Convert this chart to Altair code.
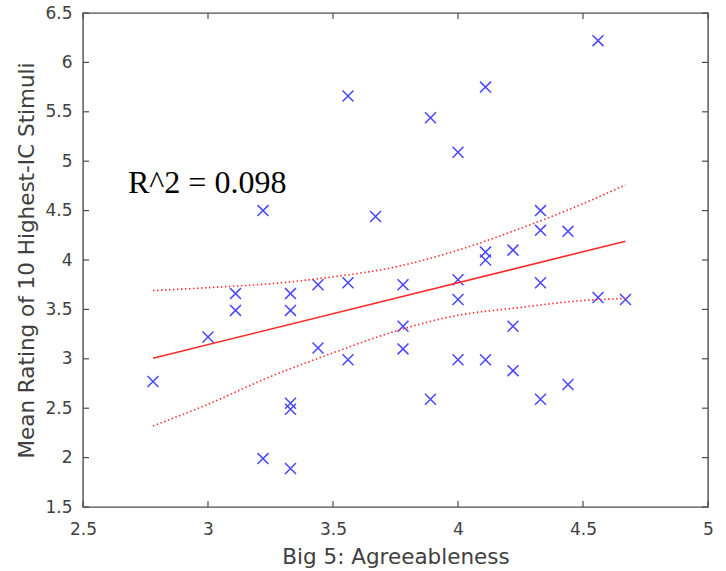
import altair as alt
import pandas as pd

# Big Five agreeableness score and mean rating for each participant
agree = [2.78, 3.00, 3.11, 3.11, 3.22, 3.22, 3.33, 3.33, 3.33, 3.33, 3.33,
         3.44, 3.44, 3.56, 3.56, 3.56, 3.67, 3.78, 3.78, 3.78, 3.89, 3.89,
         4.00, 4.00, 4.00, 4.00, 4.11, 4.11, 4.11, 4.11, 4.22, 4.22, 4.22,
         4.33, 4.33, 4.33, 4.33, 4.44, 4.44, 4.56, 4.56, 4.67]
rating = [2.77, 3.22, 3.66, 3.49, 4.50, 1.99, 3.66, 3.49, 2.55, 2.49, 1.89,
          3.75, 3.11, 5.66, 3.77, 2.99, 4.44, 3.75, 3.33, 3.10, 5.44, 2.59,
          5.09, 3.80, 3.60, 2.99, 5.75, 4.08, 4.00, 2.99, 4.10, 3.33, 2.88,
          4.50, 4.30, 3.77, 2.59, 4.29, 2.74, 6.22, 3.62, 3.60]

# least-squares fit and its confidence bounds
fit_x = [2.78, 4.67]
fit_y = [3.005, 4.19]
band_x = [2.78, 3.00, 3.25, 3.50, 3.75, 4.00, 4.25, 4.50, 4.67]
band_hi = [3.69, 3.72, 3.76, 3.83, 3.93, 4.10, 4.32, 4.57, 4.76]
band_lo = [2.32, 2.54, 2.82, 3.06, 3.28, 3.44, 3.52, 3.59, 3.61]

x_ticks = [2.5, 3, 3.5, 4, 4.5, 5]
y_ticks = [1.5, 2, 2.5, 3, 3.5, 4, 4.5, 5, 5.5, 6, 6.5]

r2_text = "R^2 = 0.098"
r2_pos = (2.68, 4.68)

W, H = 625, 494
FRAME = "#4d4d4d"
TEXT = "#404040"
TICK_LEN = 6

pts = pd.DataFrame({"x": agree, "y": rating})
fit = pd.DataFrame({"x": fit_x, "y": fit_y})
band = pd.DataFrame({
    "x": band_x + band_x,
    "y": band_hi + band_lo,
    "side": ["upper"] * len(band_x) + ["lower"] * len(band_x),
})

xscale = alt.Scale(domain=[2.5, 5], nice=False, zero=False)
yscale = alt.Scale(domain=[1.5, 6.5], nice=False, zero=False)

xaxis = alt.Axis(values=x_ticks, format="~g", title="Big 5: Agreeableness",
                 ticks=False, domain=False, grid=False, labelPadding=14,
                 labelFlush=False, labelOverlap=False,
                 titleY=56, titleBaseline="alphabetic")
yaxis = alt.Axis(values=y_ticks, format="~g",
                 title="Mean Rating of 10 Highest-IC Stimuli",
                 ticks=False, domain=False, grid=False, labelPadding=11,
                 labelFlush=False, labelOverlap=False,
                 titleX=-50, titleY=H / 2, titleAngle=270,
                 titleAlign="center", titleBaseline="alphabetic")

X = alt.X("x:Q", scale=xscale, axis=xaxis)
Y = alt.Y("y:Q", scale=yscale, axis=yaxis)

cross = "M-1,-1L1,1M-1,1L1,-1"
scatter = alt.Chart(pts).mark_point(
    shape=cross, filled=False, size=120, strokeWidth=1.5, color="#4646ff", opacity=1
).encode(x=X, y=Y)

fit_line = alt.Chart(fit).mark_line(color="#ff2b2b", strokeWidth=1.6).encode(x=X, y=Y)

bounds = alt.Chart(band).mark_line(
    color="#ff3030", strokeWidth=1.6, strokeDash=[1.5, 2.5], interpolate="monotone"
).encode(x=X, y=Y, detail="side:N")

label = alt.Chart(pd.DataFrame({"x": [r2_pos[0]], "y": [r2_pos[1]], "t": [r2_text]})).mark_text(
    align="left", baseline="alphabetic", font="Liberation Serif", fontSize=32, color="black"
).encode(x=X, y=Y, text="t:N")

# inward tick marks on all four sides of the box
xt = pd.DataFrame({"x": x_ticks})
yt = pd.DataFrame({"y": y_ticks})
tick_bottom = alt.Chart(xt).mark_rule(color=FRAME, strokeWidth=1.2).encode(
    x=X, y=alt.value(H), y2=alt.value(H - TICK_LEN))
tick_top = alt.Chart(xt).mark_rule(color=FRAME, strokeWidth=1.2).encode(
    x=X, y=alt.value(0), y2=alt.value(TICK_LEN))
tick_left = alt.Chart(yt).mark_rule(color=FRAME, strokeWidth=1.2).encode(
    y=Y, x=alt.value(0), x2=alt.value(TICK_LEN))
tick_right = alt.Chart(yt).mark_rule(color=FRAME, strokeWidth=1.2).encode(
    y=Y, x=alt.value(W), x2=alt.value(W - TICK_LEN))

chart = alt.layer(
    scatter, fit_line, bounds, label, tick_bottom, tick_top, tick_left, tick_right
).properties(
    width=W, height=H,
    padding={"left": 83, "top": 13, "right": 18, "bottom": 64},
    autosize=alt.AutoSizeParams(type="none"),
    background="white",
).configure_view(
    stroke=FRAME, strokeWidth=1.4
).configure_axis(
    labelFont="DejaVu Sans", labelFontSize=17, labelColor=TEXT,
    titleFont="DejaVu Sans", titleFontSize=21.5, titleColor=TEXT,
    titleFontWeight="normal",
)

chart.save("out.html", embed_options={"renderer": "svg", "actions": False})
